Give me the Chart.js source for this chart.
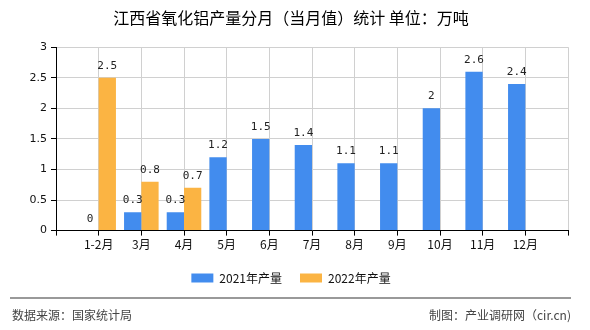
<!DOCTYPE html>
<html><head><meta charset="utf-8">
<script src="https://cdn.jsdelivr.net/npm/chart.js@4"></script>
<style>
html,body{margin:0;padding:0;background:#fff;}
#wrap{position:relative;width:590px;height:330px;overflow:hidden;}
#c{position:absolute;left:0;top:0;}
#foot-line{position:absolute;left:10px;top:297px;width:561px;height:0;border-top:2px solid #999;}
.foot{position:absolute;top:307px;font:12px "Noto Sans CJK SC",sans-serif;color:#444;white-space:nowrap;line-height:16px;}
</style></head>
<body><div id="wrap"><canvas id="c" width="590" height="330"></canvas>
<div id="foot-line"></div>
<div class="foot" style="left:12px">数据来源：国家统计局</div>
<div class="foot" style="right:19px">制图：产业调研网（cir.cn)</div>
</div>
<script>
const title = '江西省氧化铝产量分月（当月值）统计 单位：万吨';
const categories = ['1-2月','3月','4月','5月','6月','7月','8月','9月','10月','11月','12月'];
const series2021 = [0, 0.3, 0.3, 1.2, 1.5, 1.4, 1.1, 1.1, 2, 2.6, 2.4];
const series2022 = [2.5, 0.8, 0.7, null, null, null, null, null, null, null, null];
const seriesNames = ['2021年产量', '2022年产量'];
const yTicks = [0, 0.5, 1, 1.5, 2, 2.5, 3];

const labels = [''].concat(categories, ['']);
const pad = arr => [null].concat(arr, [null]);

const CJK = '"Noto Sans CJK SC", sans-serif';

const valueLabels = {
  id: 'valueLabels',
  afterDatasetsDraw(chart) {
    const ctx = chart.ctx;
    ctx.save();
    ctx.font = '11px "DejaVu Sans Mono", monospace';
    ctx.fillStyle = '#222';
    ctx.textAlign = 'center';
    ctx.textBaseline = 'alphabetic';
    chart.data.datasets.forEach((ds, di) => {
      const meta = chart.getDatasetMeta(di);
      meta.data.forEach((bar, i) => {
        const v = ds.data[i];
        if (v === null || v === undefined) return;
        ctx.fillText(String(v), bar.x, bar.y - 9);
      });
    });
    ctx.restore();
  }
};

new Chart(document.getElementById('c'), {
  type: 'bar',
  data: {
    labels: labels,
    datasets: [
      { label: seriesNames[0], data: pad(series2021), backgroundColor: '#428CEE', categoryPercentage: 0.81, barPercentage: 1 },
      { label: seriesNames[1], data: pad(series2022), backgroundColor: '#FBB443', categoryPercentage: 0.81, barPercentage: 1 }
    ]
  },
  options: {
    responsive: false,
    animation: false,
    layout: { padding: { left: 14, right: 22, top: 0, bottom: 36 } },
    plugins: {
      title: { display: true, text: title, color: '#000', font: { family: CJK, size: 16, weight: 'normal' }, padding: { top: 8, bottom: 20 } },
      legend: {
        position: 'bottom',
        labels: { boxWidth: 22, boxHeight: 9, color: '#111', font: { family: CJK, size: 12 }, padding: 18 }
      },
      tooltip: { enabled: false }
    },
    scales: {
      x: {
        offset: false,
        grid: { color: '#d0d0d0', tickColor: '#000', tickLength: 5, offset: false },
        border: { color: '#000', width: 1 },
        ticks: { color: '#111', font: { family: CJK, size: 12 }, padding: 2, autoSkip: false, maxRotation: 0 }
      },
      y: {
        min: 0, max: 3,
        afterFit(scale) { scale.width = 42; },
        afterBuildTicks(scale) { scale.ticks = yTicks.map(v => ({ value: v })); },
        grid: { color: '#d0d0d0', tickColor: '#000', tickLength: 5 },
        border: { color: '#000', width: 1 },
        ticks: { color: '#111', font: { family: 'DejaVu Sans', size: 11 }, padding: 4, callback: v => String(v) }
      }
    }
  },
  plugins: [valueLabels]
});
</script></body></html>
